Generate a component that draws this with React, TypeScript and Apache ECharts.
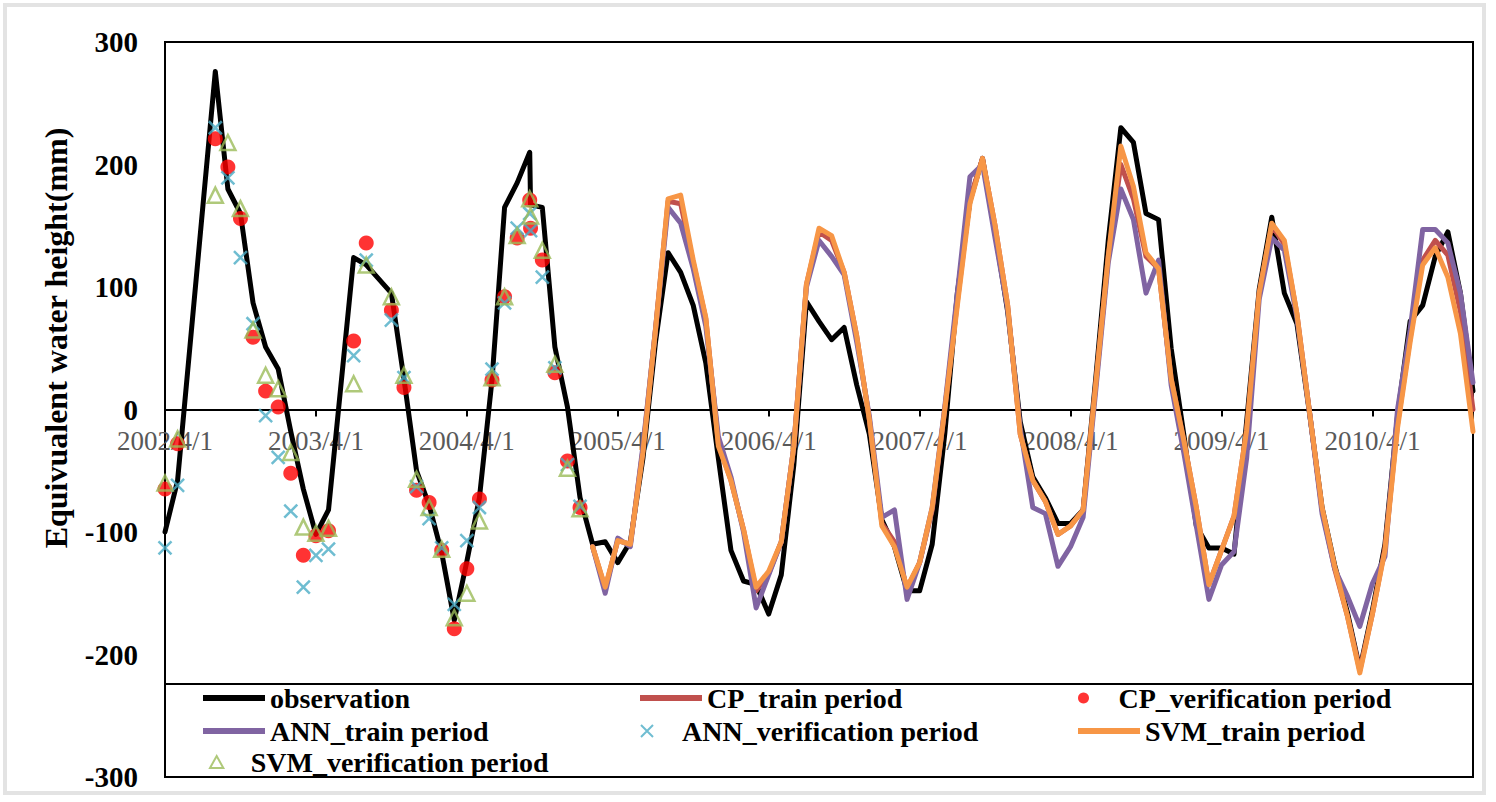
import React, { useEffect, useRef } from 'react';
import * as echarts from 'echarts';

// x-axis tick labels (one per April)
const yearLabels = ['2002/4/1', '2003/4/1', '2004/4/1', '2005/4/1', '2006/4/1', '2007/4/1', '2008/4/1', '2009/4/1', '2010/4/1'];

// ---- verification period (2002/4 - 2005/1) ----
const verifDates = [
  '2002-04-01', '2002-05-01', '2002-08-01', '2002-09-01', '2002-10-01', '2002-11-01', '2002-12-01',
  '2003-01-01', '2003-02-01', '2003-03-01', '2003-04-01', '2003-05-01', '2003-07-01', '2003-08-01', '2003-10-01', '2003-11-01', '2003-12-01',
  '2004-01-01', '2004-02-01', '2004-03-01', '2004-04-01', '2004-05-01', '2004-06-01', '2004-07-01', '2004-08-01', '2004-09-01', '2004-09-03', '2004-10-01', '2004-11-01', '2004-12-01',
  '2005-01-01',
];
const verifObs = [-100, -58, 276, 180, 160, 87, 51, 33, -18, -65, -102, -82, 124, 118, 95, 25, -50, -78, -117, -172, -124, -72, 24, 165, 185, 210, 167, 165, 51, 2, -72];
const cpVerif = [-65, -28, 221, 198, 156, 59, 15, 2, -52, -119, -103, -99, 56, 136, 81, 18, -66, -76, -115, -179, -130, -73, 24, 92, 140, 171, 148, 122, 30, -42, -80];
const annVerif = [-113, -62, 230, 189, 124, 70, -5, -39, -83, -145, -119, -114, 44, 122, 73, 26, -63, -89, -113, -159, -107, -80, 33, 87, 148, 160, 146, 108, 34, -45, -79];
const svmVerif = [-60, -24, 175, 218, 164, 65, 28, 17, -35, -96, -101, -97, 21, 118, 92, 28, -57, -80, -114, -170, -150, -91, 26, 92, 142, 172, 158, 130, 37, -48, -81];

// ---- training period (2005/2 - 2010/12) ----
const trainDates = [
  '2005-02-01', '2005-03-01', '2005-04-01', '2005-05-01', '2005-06-01', '2005-07-01', '2005-08-01', '2005-09-01', '2005-10-01', '2005-11-01', '2005-12-01',
  '2006-01-01', '2006-02-01', '2006-03-01', '2006-04-01', '2006-05-01', '2006-06-01', '2006-07-01', '2006-08-01', '2006-09-01', '2006-10-01', '2006-11-01', '2006-12-01',
  '2007-01-01', '2007-02-01', '2007-03-01', '2007-04-01', '2007-05-01', '2007-06-01', '2007-07-01', '2007-08-01', '2007-09-01', '2007-10-01', '2007-11-01', '2007-12-01',
  '2008-01-01', '2008-02-01', '2008-03-01', '2008-04-01', '2008-05-01', '2008-06-01', '2008-07-01', '2008-08-01', '2008-09-01', '2008-10-01', '2008-11-01', '2008-12-01',
  '2009-01-01', '2009-02-01', '2009-03-01', '2009-04-01', '2009-05-01', '2009-06-01', '2009-07-01', '2009-08-01', '2009-09-01', '2009-10-01', '2009-11-01', '2009-12-01',
  '2010-01-01', '2010-02-01', '2010-03-01', '2010-04-01', '2010-05-01', '2010-06-01', '2010-07-01', '2010-08-01', '2010-09-01', '2010-10-01', '2010-11-01', '2010-12-01',
];
const trainObs = [
  -110, -108, -125, -108, -40, 55, 128, 112, 85, 38, -40,
  -115, -140, -143, -167, -135, -45, 88, 72, 57, 67, 20, -20,
  -90, -112, -148, -148, -110, -20, 95, 170, 205, 145, 80, -10,
  -55, -72, -93, -93, -82, 25, 138, 230, 218, 160, 155, 50,
  -20, -95, -113, -113, -118, -10, 98, 157, 95, 70, -3, -80,
  -127, -165, -212, -164, -110, -5, 72, 85, 125, 145, 95, 15,
];
const cpTrain = [
  -112, -146, -107, -110, -33, 66, 170, 168, 120, 74, -28,
  -58, -98, -148, -134, -108, -30, 102, 145, 138, 112, 60, -8,
  -93, -108, -146, -125, -82, 0, 88, 172, 205, 150, 85, -20,
  -58, -75, -102, -95, -82, 20, 125, 200, 172, 125, 115, 25,
  -25, -80, -143, -115, -87, -17, 95, 150, 135, 78, -2, -82,
  -130, -168, -213, -167, -113, -12, 58, 122, 138, 126, 80, 0,
];
const annTrain = [
  -112, -150, -105, -112, -30, 65, 165, 152, 115, 68, -22,
  -55, -100, -162, -135, -108, -30, 100, 138, 125, 110, 55, -5,
  -88, -82, -155, -125, -80, 2, 95, 190, 200, 140, 82, -15,
  -80, -85, -128, -112, -88, 15, 120, 180, 155, 95, 122, 20,
  -35, -95, -155, -127, -116, -40, 90, 140, 130, 75, -2, -85,
  -130, -152, -177, -142, -120, 0, 65, 147, 147, 136, 95, 22,
];
const svmTrain = [
  -112, -145, -107, -110, -35, 65, 172, 175, 122, 75, -30,
  -58, -98, -145, -132, -108, -30, 102, 148, 142, 112, 60, -8,
  -95, -112, -145, -125, -80, 0, 85, 168, 205, 150, 85, -20,
  -58, -75, -102, -95, -82, 20, 125, 215, 182, 128, 115, 25,
  -25, -80, -143, -115, -87, -17, 95, 152, 138, 78, -2, -80,
  -128, -168, -215, -167, -115, -15, 55, 118, 132, 108, 62, -18,
];

const FONT = 'Liberation Serif';

// months elapsed since 2002/4/1
function monthOffset(d: string): number {
  const [y, m, day] = d.split('-').map(Number);
  return (y - 2002) * 12 + (m - 4) + (day - 1) / 30.4;
}
function pairs(dates: string[], vals: number[]) {
  return dates.map((d, i) => [monthOffset(d), vals[i]]);
}

const X_PATH = 'path://M0,0L10,10M10,0L0,10';
const TRI_PATH = 'path://M5,0L10,9L0,9Z';

const GRID_TOP = 42;
const GRID_BOTTOM = 25;
const CHART_H = 802;

export default function App() {
  const ref = useRef<HTMLDivElement>(null);
  useEffect(() => {
    if (!ref.current) return;
    const chart = echarts.init(ref.current, undefined, { renderer: 'svg' });
    // place the date axis on the y = 0 line (middle of the symmetric -300..300 range)
    const plotH = CHART_H - GRID_TOP - GRID_BOTTOM;
    const zeroOffset = -plotH / 2;
    const legendText = { fontSize: 28, fontWeight: 'bold', fontFamily: FONT, color: '#000' };
    const lineLegend = (name: string, left: number, top: number, color: string) => ({
      data: [name], left, top, padding: 0, selectedMode: false, icon: 'rect',
      itemWidth: 62, itemHeight: 6, itemStyle: { color, borderWidth: 0 }, textStyle: legendText,
    });
    const markLegend = (name: string, left: number, top: number, icon: string, itemStyle: any, w: number, h: number) => ({
      data: [name], left, top, padding: 0, selectedMode: false, icon,
      itemWidth: w, itemHeight: h, itemStyle, textStyle: legendText,
    });
    const lineSeries = (name: string, data: any[], color: string, z: number) => ({
      name, type: 'line', data, showSymbol: false, symbol: 'none', silent: true, z,
      itemStyle: { color }, lineStyle: { color, width: 5, join: 'round', cap: 'round' },
    });
    const option: any = {
      animation: false,
      backgroundColor: '#fff',
      grid: { left: 165, right: 23, top: GRID_TOP, bottom: GRID_BOTTOM, show: true, borderColor: '#000', borderWidth: 2 },
      xAxis: {
        type: 'value', min: 0, max: 104, interval: 12, position: 'bottom', offset: zeroOffset,
        axisLine: { onZero: false, lineStyle: { color: '#000', width: 2 } },
        axisTick: { show: true, length: 7, lineStyle: { color: '#000', width: 2 } },
        axisLabel: {
          formatter: (v: number) => (v % 12 === 0 ? yearLabels[v / 12] ?? '' : ''),
          color: '#595959', fontSize: 27, fontFamily: FONT, margin: 18,
        },
        splitLine: { show: false },
      },
      yAxis: {
        type: 'value', min: -300, max: 300, interval: 100,
        axisLine: { show: true, onZero: false, lineStyle: { color: '#000', width: 2 } },
        axisTick: { show: false },
        axisLabel: { fontSize: 29, fontWeight: 'bold', fontFamily: FONT, color: '#000', margin: 27 },
        splitLine: { show: false },
      },
      legend: [
        lineLegend('observation', 203, 684, '#000'),
        lineLegend('CP_train period', 640, 684, '#C0504D'),
        markLegend('CP_verification period', 1078, 684, 'circle', { color: '#FF0000', borderWidth: 0 }, 60, 11),
        lineLegend('ANN_train period', 203, 717, '#8064A2'),
        markLegend('ANN_verification period', 640, 717, X_PATH, { color: 'transparent', borderColor: '#4BACC6', borderWidth: 2 }, 60, 12),
        lineLegend('SVM_train period', 1078, 717, '#F79646'),
        markLegend('SVM_verification period', 209, 748, TRI_PATH, { color: 'transparent', borderColor: '#9BBB59', borderWidth: 2 }, 58, 12),
      ],
      graphic: [
        { type: 'rect', z: 1, shape: { x: 5, y: 5, width: 1479, height: 788 }, style: { fill: 'none', stroke: '#e3e3e3', lineWidth: 4 } },
        { type: 'rect', z: 1, shape: { x: 165, y: 684, width: 1308, height: 93 }, style: { fill: '#fff', stroke: '#000', lineWidth: 2 } },
        {
          type: 'text', x: 56, y: 338, rotation: Math.PI / 2, z: 5,
          style: {
            text: 'Equivualent water height(mm)', fill: '#000',
            font: `bold 32px "${FONT}"`, fontSize: 32, fontWeight: 'bold', fontFamily: FONT,
            align: 'center', verticalAlign: 'middle', textAlign: 'center', textVerticalAlign: 'middle',
          },
        },
      ],
      series: [
        lineSeries('observation', pairs([...verifDates, ...trainDates], [...verifObs, ...trainObs]), '#000', 2),
        lineSeries('CP_train period', pairs(trainDates, cpTrain), '#C0504D', 2),
        lineSeries('ANN_train period', pairs(trainDates, annTrain), '#8064A2', 2),
        lineSeries('SVM_train period', pairs(trainDates, svmTrain), '#F79646', 2),
        {
          name: 'CP_verification period', type: 'scatter', data: pairs(verifDates, cpVerif), silent: true, z: 3,
          symbol: 'circle', symbolSize: 15, itemStyle: { color: '#FF0000' },
        },
        {
          name: 'ANN_verification period', type: 'scatter', data: pairs(verifDates, annVerif), silent: true, z: 3,
          symbol: X_PATH, symbolSize: 13, itemStyle: { color: 'transparent', borderColor: '#4BACC6', borderWidth: 2.5 },
        },
        {
          name: 'SVM_verification period', type: 'scatter', data: pairs(verifDates, svmVerif), silent: true, z: 3,
          symbol: 'triangle', symbolSize: 15, itemStyle: { color: 'transparent', borderColor: '#9BBB59', borderWidth: 2.5 },
        },
      ],
    };
    chart.setOption(option);
    return () => chart.dispose();
  }, []);
  return <div ref={ref} style={{ position: 'absolute', left: 0, top: 0, width: 1496, height: 802 }} />;
}
